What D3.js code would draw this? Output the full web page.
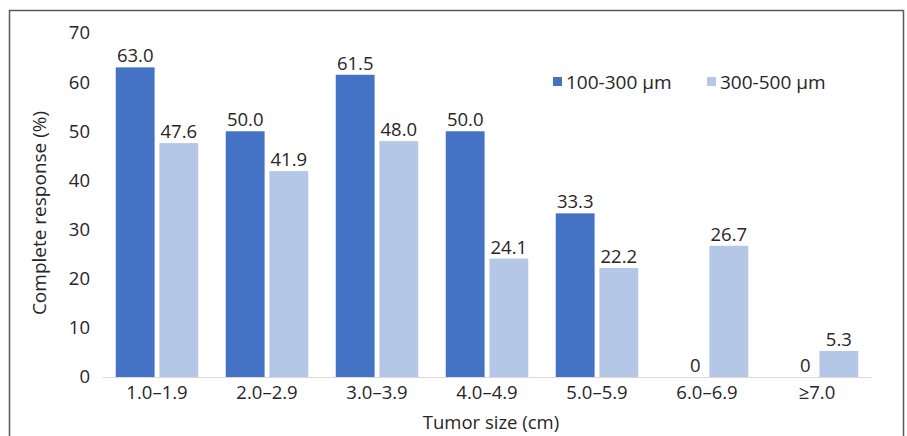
<!DOCTYPE html>
<html><head><meta charset="utf-8">
<script src="https://cdn.jsdelivr.net/npm/d3@7"></script>
<style>body{margin:0;background:#fff}svg{display:block}text{font-family:"Open Sans","Noto Sans",sans-serif;fill:#262626}</style>
</head><body><svg id="c" width="907" height="436"></svg>
<script>
const categories=["1.0–1.9","2.0–2.9","3.0–3.9","4.0–4.9","5.0–5.9","6.0–6.9","≥7.0"];
const series=["100-300 µm","300-500 µm"];
const small=[63.0,50.0,61.5,50.0,33.3,0,0];
const large=[47.6,41.9,48.0,24.1,22.2,26.7,5.3];
const labelsSmall=["63.0","50.0","61.5","50.0","33.3","0","0"];
const labelsLarge=["47.6","41.9","48.0","24.1","22.2","26.7","5.3"];
const yTicks=[0,10,20,30,40,50,60,70];
const colors=["#4472C4","#B4C7E7"];

const svg=d3.select("#c");
svg.append("rect").attr("x",9.5).attr("y",10.5).attr("width",894).attr("height",440).attr("fill","none").attr("stroke","#595959").attr("stroke-width",1.5);
const L=102,R=872,T=33,B=377;
const x=d3.scaleBand().domain(categories).range([L,R]).paddingInner(0.25).paddingOuter(0.125);
const xs=d3.scaleBand().domain(series).range([0,x.bandwidth()]).paddingInner(0.11);
const y=d3.scaleLinear().domain([0,70]).range([B,T]);

const ya=svg.append("g").attr("transform",`translate(${L},0)`).call(d3.axisLeft(y).tickValues(yTicks).tickSize(0).tickPadding(12));
ya.select(".domain").remove();
ya.selectAll("text").style("font-size","18.5px").attr("fill","#262626");

const xa=svg.append("g").attr("transform",`translate(0,${B})`).call(d3.axisBottom(x).tickSize(0).tickPadding(9));
xa.select(".domain").attr("stroke","#d9d9d9").attr("stroke-width",1.2);
xa.selectAll("text").style("font-size","18.5px").attr("fill","#262626");

const data=[small,large], labs=[labelsSmall,labelsLarge];
data.forEach((vals,si)=>{
  const g=svg.append("g");
  g.selectAll("rect").data(vals).join("rect")
    .attr("x",(d,i)=>x(categories[i])+xs(series[si])).attr("width",xs.bandwidth())
    .attr("y",d=>y(d)).attr("height",d=>B-y(d)).attr("fill",colors[si]);
  g.selectAll("text").data(vals).join("text")
    .attr("x",(d,i)=>x(categories[i])+xs(series[si])+xs.bandwidth()/2)
    .attr("dx",d=>d===0?10:0)
    .attr("y",d=>y(d)-5).attr("text-anchor","middle").style("font-size","18.5px")
    .text((d,i)=>labs[si][i]);
});

const leg=svg.append("g");
const lx=[553,707];
series.forEach((s,i)=>{
  leg.append("rect").attr("x",lx[i]).attr("y",77).attr("width",9).attr("height",9).attr("fill",colors[i]);
  leg.append("text").attr("x",lx[i]+13).attr("y",88.5).style("font-size","19px").text(s);
});

svg.append("text").attr("x",491).attr("y",429).attr("text-anchor","middle").style("font-size","18.5px").text("Tumor size (cm)");
svg.append("text").attr("transform",`translate(46,213) rotate(-90)`).attr("text-anchor","middle").style("font-size","19px").text("Complete response (%)");
</script></body></html>
